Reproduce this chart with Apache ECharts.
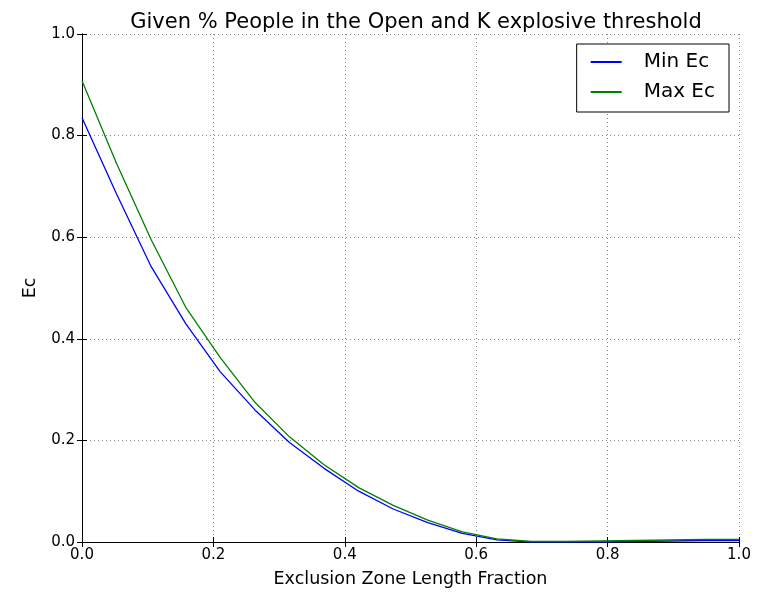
<!DOCTYPE html>
<html><head><meta charset="utf-8">
<script src="https://cdn.jsdelivr.net/npm/echarts@6/dist/echarts.min.js"></script>
<style>html,body{margin:0;padding:0;background:#fff}#c{width:771px;height:593px}</style>
</head><body><div id="c"></div>
<script>
const xValues = [0, 0.0526, 0.1053, 0.1579, 0.2105, 0.2632, 0.3158, 0.3684, 0.4211, 0.4737, 0.5263, 0.5789, 0.6316, 0.6842, 0.7368, 0.7895, 0.8421, 0.8947, 0.9474, 1.0];
const minEc = [0.835, 0.685, 0.542, 0.430, 0.335, 0.260, 0.196, 0.145, 0.100, 0.065, 0.038, 0.017, 0.004, 0.000, 0.000, 0.000, 0.001, 0.002, 0.003, 0.003];
const maxEc = [0.908, 0.745, 0.595, 0.462, 0.363, 0.275, 0.207, 0.152, 0.107, 0.072, 0.043, 0.020, 0.006, 0.001, 0.001, 0.002, 0.003, 0.004, 0.005, 0.005];
const tickLabels = ['0.0', '0.2', '0.4', '0.6', '0.8', '1.0'];
const seriesNames = ['Min Ec', 'Max Ec'];
const titleText = 'Given % People in the Open and K explosive threshold';
const xName = 'Exclusion Zone Length Fraction';
const yName = 'Ec';

const font = 'DejaVu Sans';
const chart = echarts.init(document.getElementById('c'), null, {renderer: 'canvas'});
const baseAxis = {
  type: 'value', min: 0, max: 1, interval: 0.2,
  axisLine: {show: true, lineStyle: {color: '#000', width: 1}},
  axisTick: {show: true, inside: true, length: 5, lineStyle: {color: '#000'}},
  splitLine: {show: false}
};
chart.setOption({
  animation: false,
  title: {text: titleText, left: 411, textAlign: 'center', top: 7,
    textStyle: {fontFamily: font, fontSize: 21, fontWeight: 'normal', color: '#000'}},
  grid: {left: 82, right: 32, top: 34, bottom: 51, containLabel: false},
  legend: {
    data: seriesNames, orient: 'vertical', right: 42, top: 44,
    backgroundColor: '#fff', borderColor: '#000', borderWidth: 1,
    padding: [8, 14, 10, 14], itemGap: 10, itemWidth: 31, itemHeight: 2, icon: 'rect',
    textStyle: {fontFamily: font, fontSize: 20, color: '#000', padding: [0, 0, 0, 17]}
  },
  xAxis: [
    Object.assign({}, baseAxis, {
      position: 'bottom', name: xName, nameLocation: 'middle', nameGap: 28,
      nameTextStyle: {fontFamily: font, fontSize: 17.5, color: '#000'},
      axisLabel: {fontFamily: font, fontSize: 15, color: '#000', margin: 6, formatter: v => tickLabels[Math.round(v * 5)]},
      splitLine: {show: true, lineStyle: {color: '#888', type: [1, 3], width: 1}}
    }),
    Object.assign({}, baseAxis, {position: 'top', axisLabel: {show: false}})
  ],
  yAxis: [
    Object.assign({}, baseAxis, {
      position: 'left', name: yName, nameLocation: 'middle', nameGap: 43, nameRotate: 90,
      nameTextStyle: {fontFamily: font, fontSize: 17.5, color: '#000'},
      axisLabel: {fontFamily: font, fontSize: 15, color: '#000', margin: 7, formatter: v => tickLabels[Math.round(v * 5)]},
      splitLine: {show: true, lineStyle: {color: '#888', type: [1, 3], width: 1}}
    }),
    Object.assign({}, baseAxis, {position: 'right', axisLabel: {show: false}})
  ],
  series: [
    {name: seriesNames[0], type: 'line', symbol: 'none', color: '#0000ff',
     lineStyle: {width: 1.3, color: '#0000ff'}, data: xValues.map((x, i) => [x, minEc[i]]), z: 3},
    {name: seriesNames[1], type: 'line', symbol: 'none', color: '#008000',
     lineStyle: {width: 1.3, color: '#008000'}, data: xValues.map((x, i) => [x, maxEc[i]]), z: 4}
  ]
});
</script></body></html>
